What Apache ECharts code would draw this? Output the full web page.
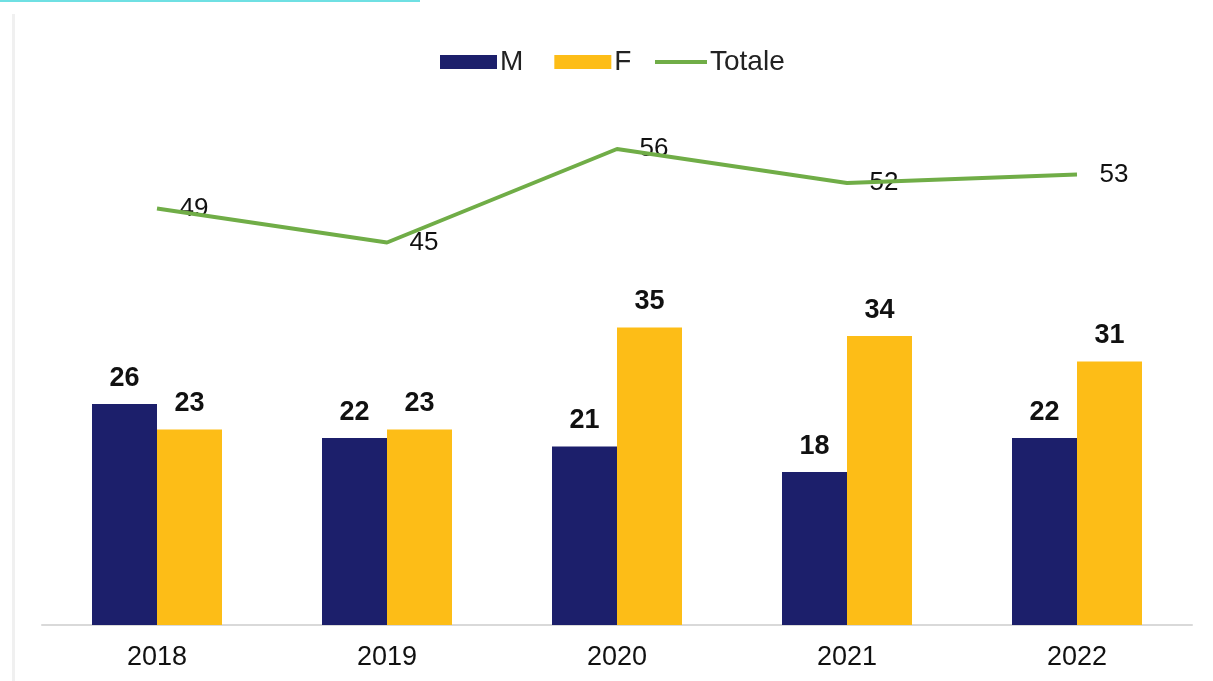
<!DOCTYPE html>
<html>
<head>
<meta charset="utf-8">
<script src="https://cdn.jsdelivr.net/npm/echarts@6/dist/echarts.min.js"></script>
<style>html,body{margin:0;padding:0;background:#fff;}#c{width:1213px;height:681px;}</style>
</head>
<body>
<div id="c"></div>
<script>
const categories = ['2018', '2019', '2020', '2021', '2022'];
const valuesM = [26, 22, 21, 18, 22];
const valuesF = [23, 23, 35, 34, 31];
const valuesTotale = [49, 45, 56, 52, 53];

const chart = echarts.init(document.getElementById('c'));
const font = '"Liberation Sans", Arial, sans-serif';
const legendText = { fontSize: 28, color: '#222', fontFamily: font, padding: [0, 0, 0, -2] };
chart.setOption({
  animation: false,
  backgroundColor: '#fff',
  textStyle: { fontFamily: font },
  graphic: [
    { type: 'rect', shape: { x: 0, y: 0, width: 420, height: 2 }, style: { fill: '#6fe0e3' } },
    { type: 'rect', shape: { x: 12, y: 14, width: 3, height: 667 }, style: { fill: '#f0f0f0' } }
  ],
  legend: [
    {
      top: 43,
      left: 435,
      itemWidth: 57,
      itemHeight: 14,
      itemGap: 31,
      textStyle: legendText,
      data: [
        { name: 'M', icon: 'rect' },
        { name: 'F', icon: 'rect' }
      ]
    },
    {
      top: 43,
      left: 650,
      itemWidth: 52,
      itemHeight: 4,
      textStyle: legendText,
      data: [{ name: 'Totale', icon: 'rect' }]
    }
  ],
  grid: { left: 42, right: 21, top: 115, bottom: 56 },
  xAxis: {
    type: 'category',
    data: categories,
    axisLine: { lineStyle: { color: '#d9d9d9', width: 2 } },
    axisTick: { show: false },
    axisLabel: { fontSize: 27, color: '#111', margin: 19, fontFamily: font }
  },
  yAxis: {
    type: 'value',
    min: 0,
    max: 60,
    show: false,
    splitLine: { show: false }
  },
  series: [
    {
      name: 'M',
      type: 'bar',
      data: valuesM,
      barWidth: 65,
      barGap: '0%',
      itemStyle: { color: '#1c1f6b' },
      label: { show: true, position: 'top', distance: 12, fontSize: 27, fontWeight: 'bold', color: '#111', fontFamily: font }
    },
    {
      name: 'F',
      type: 'bar',
      data: valuesF,
      barWidth: 65,
      barGap: '0%',
      itemStyle: { color: '#fdbd17' },
      label: { show: true, position: 'top', distance: 12, fontSize: 27, fontWeight: 'bold', color: '#111', fontFamily: font }
    },
    {
      name: 'Totale',
      type: 'line',
      data: valuesTotale,
      symbol: 'none',
      lineStyle: { color: '#70ad47', width: 4 },
      itemStyle: { color: '#70ad47' }
    },
    {
      name: 'TotaleLabels',
      type: 'scatter',
      data: valuesTotale,
      symbolSize: 1,
      itemStyle: { color: 'rgba(0,0,0,0)', opacity: 1 },
      silent: true,
      label: { show: true, position: 'right', distance: 22, fontSize: 26, color: '#111', opacity: 1, fontFamily: font }
    }
  ]
});
</script>
</body>
</html>
